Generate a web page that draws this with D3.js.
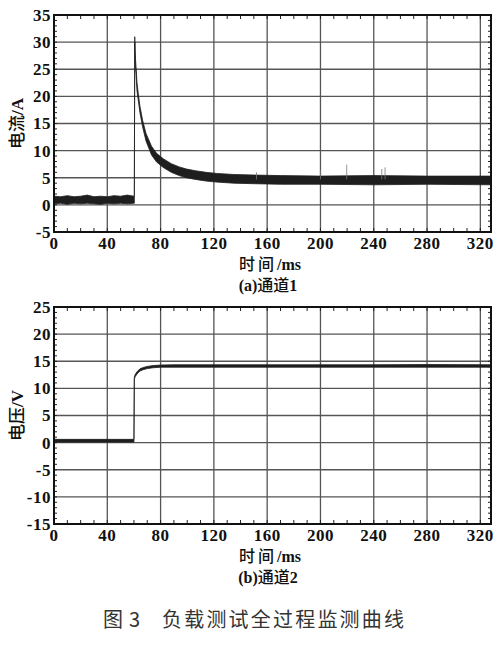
<!DOCTYPE html>
<html>
<head>
<meta charset="utf-8">
<script src="https://cdn.jsdelivr.net/npm/d3@7"></script>
<style>
  body { margin: 0; background: #fff; }
  .tick-label { font-family: "Liberation Serif", "DejaVu Serif", serif; font-weight: bold; font-size: 17px; letter-spacing: 0.5px; fill: #111; }
  .cjk { font-family: "Noto Sans CJK SC", sans-serif; font-weight: 500; }
  .latin { font-family: "Liberation Serif", serif; font-weight: bold; }
</style>
</head>
<body>
<div id="chart"></div>
<script>
// tick values
var timeTicks = [0, 40, 80, 120, 160, 200, 240, 280, 320];
var currentTicks = [-5, 0, 5, 10, 15, 20, 25, 30, 35];
var voltageTicks = [-15, -10, -5, 0, 5, 10, 15, 20, 25];

// channel 1 : current, noisy band (upper / lower edge)
var currentT  = [0, 5, 10, 15, 20, 25, 30, 35, 40, 45, 50, 55, 60, 60.3, 60.6, 60.9, 61.5, 62.3, 63.2, 64.5, 66.5, 69, 73.2, 77, 82, 88, 94, 99.5, 106, 114, 122, 135, 150, 170, 200, 240, 280, 328];
var currentHi = [1.6, 1.5, 1.7, 1.5, 1.6, 1.8, 1.5, 1.6, 1.5, 1.7, 1.6, 1.8, 1.6, 1.6, 31.0, 28.0, 25.6, 22.5, 20.6, 18.2, 15.6, 13.2, 10.8, 9.5, 8.5, 7.6, 7.0, 6.6, 6.3, 6.0, 5.8, 5.6, 5.5, 5.4, 5.3, 5.4, 5.3, 5.3];
var currentLo = [0.2, 0.3, 0.1, 0.3, 0.2, 0.3, 0.2, 0.1, 0.3, 0.2, 0.3, 0.2, 0.3, 0.3, 30.0, 26.5, 24.4, 21.0, 19.4, 17.0, 14.4, 11.8, 9.2, 7.9, 6.9, 6.0, 5.4, 5.0, 4.7, 4.4, 4.2, 4.0, 3.9, 3.8, 3.8, 3.7, 3.8, 3.7];
// isolated thin spikes
var spikeT = [152, 200, 219.7, 246, 248.5];
var spikeV = [6.0, 6.4, 7.4, 6.6, 6.9];
var spikeBase = 4.7;

// channel 2 : voltage
var voltageT  = [0, 20, 40, 59.8, 60, 60.3, 61, 62.5, 64.5, 67, 70, 74.5, 80, 90, 120, 160, 200, 240, 280, 328];
var voltageHi = [0.6, 0.6, 0.6, 0.6, 0.6, 12.1, 12.6, 13.1, 13.6, 13.85, 14.05, 14.2, 14.3, 14.35, 14.35, 14.35, 14.35, 14.35, 14.4, 14.35];
var voltageLo = [0.1, 0.1, 0.1, 0.1, 0.1, 11.7, 12.2, 12.7, 13.2, 13.45, 13.65, 13.8, 13.9, 13.9, 13.9, 13.9, 13.9, 13.9, 13.9, 13.9];

var svgWidth = 500;
var svgHeight = 645;

var svg = d3.select("#chart")
  .append("svg")
  .attr("width", svgWidth)
  .attr("height", svgHeight);

function drawPanel(opt) {
  var left = 54, right = 491;
  var top = opt.top, bottom = opt.top + 217;

  var x = d3.scaleLinear().domain([0, 328]).range([left, right]);
  var y = d3.scaleLinear().domain([opt.yTicks[0], opt.yTicks[opt.yTicks.length - 1]]).range([bottom, top]);

  var g = svg.append("g");

  // grid
  g.selectAll(".vgrid")
    .data(timeTicks.filter(d => d > 0))
    .enter().append("line")
    .attr("x1", d => x(d)).attr("x2", d => x(d))
    .attr("y1", top).attr("y2", bottom)
    .attr("stroke", "#555").attr("stroke-width", 1.3);

  g.selectAll(".hgrid")
    .data(opt.yTicks.slice(1, -1))
    .enter().append("line")
    .attr("x1", left).attr("x2", right)
    .attr("y1", d => y(d)).attr("y2", d => y(d))
    .attr("stroke", "#555").attr("stroke-width", 1.3);

  // minor ticks, inside the frame
  var xMinor = d3.range(10, 328, 10);
  xMinor.forEach(function(t) {
    g.append("line").attr("x1", x(t)).attr("x2", x(t)).attr("y1", top).attr("y2", top + 4)
      .attr("stroke", "#222").attr("stroke-width", 1);
    g.append("line").attr("x1", x(t)).attr("x2", x(t)).attr("y1", bottom).attr("y2", bottom - 4)
      .attr("stroke", "#222").attr("stroke-width", 1);
  });
  var yMinor = d3.range(opt.yTicks[0] + 1, opt.yTicks[opt.yTicks.length - 1], 1);
  yMinor.forEach(function(v) {
    g.append("line").attr("x1", left).attr("x2", left + 3).attr("y1", y(v)).attr("y2", y(v))
      .attr("stroke", "#222").attr("stroke-width", 1);
    g.append("line").attr("x1", right).attr("x2", right - 3).attr("y1", y(v)).attr("y2", y(v))
      .attr("stroke", "#222").attr("stroke-width", 1);
  });

  // data band
  var area = d3.area()
    .x(d => x(d.t))
    .y0(d => y(d.lo))
    .y1(d => y(d.hi));
  var rows = opt.t.map((t, i) => ({ t: t, hi: opt.hi[i], lo: opt.lo[i] }));
  g.append("path")
    .datum(rows)
    .attr("d", area)
    .attr("fill", "#1e1e1e")
    .attr("stroke", "#1e1e1e")
    .attr("stroke-width", 0.8);

  if (opt.spikes) {
    g.selectAll(".spike")
      .data(opt.spikes.t)
      .enter().append("line")
      .attr("x1", d => x(d)).attr("x2", d => x(d))
      .attr("y1", y(spikeBase))
      .attr("y2", (d, i) => y(opt.spikes.v[i]))
      .attr("stroke", "#777").attr("stroke-width", 0.8);
  }

  // frame
  g.append("rect")
    .attr("x", left).attr("y", top)
    .attr("width", right - left).attr("height", bottom - top)
    .attr("fill", "none").attr("stroke", "#111").attr("stroke-width", 2);

  // tick labels
  g.selectAll(".xl")
    .data(timeTicks)
    .enter().append("text")
    .attr("class", "tick-label")
    .attr("x", d => x(d)).attr("y", bottom + 17)
    .attr("text-anchor", "middle")
    .text(d => d);

  g.selectAll(".yl")
    .data(opt.yTicks)
    .enter().append("text")
    .attr("class", "tick-label")
    .attr("x", left - 3).attr("y", d => y(d))
    .attr("dy", "0.35em")
    .attr("text-anchor", "end")
    .text(d => d);

  // x axis title
  var xt = g.append("text")
    .attr("x", 270).attr("y", bottom + 38)
    .attr("text-anchor", "middle")
    .attr("font-size", 16).attr("fill", "#111");
  xt.append("tspan").attr("class", "cjk").attr("letter-spacing", 3).text("时间");
  xt.append("tspan").attr("class", "latin").text("/ms");

  var sub = g.append("text")
    .attr("x", 268).attr("y", bottom + 59)
    .attr("text-anchor", "middle")
    .attr("font-size", 16).attr("fill", "#111");
  sub.append("tspan").attr("class", "latin").text(opt.subA);
  sub.append("tspan").attr("class", "cjk").text("通道");
  sub.append("tspan").attr("class", "latin").text(opt.subB);

  // y axis title
  var yt = g.append("text")
    .attr("transform", `translate(23, ${(top + bottom) / 2}) rotate(-90)`)
    .attr("text-anchor", "middle")
    .attr("font-size", 17).attr("fill", "#111");
  yt.append("tspan").attr("class", "cjk").text(opt.yName);
  yt.append("tspan").attr("class", "latin").text(opt.yUnit);
}

drawPanel({
  top: 15,
  yTicks: currentTicks,
  t: currentT, hi: currentHi, lo: currentLo,
  spikes: { t: spikeT, v: spikeV },
  subA: "(a)", subB: "1",
  yName: "电流", yUnit: "/A"
});

drawPanel({
  top: 307,
  yTicks: voltageTicks,
  t: voltageT, hi: voltageHi, lo: voltageLo,
  subA: "(b)", subB: "2",
  yName: "电压", yUnit: "/V"
});

// figure caption
var cap = svg.append("text")
  .attr("x", 103).attr("y", 627)
  .attr("font-family", "Noto Sans CJK SC, sans-serif")
  .attr("font-size", 20)
  .attr("fill", "#333");
cap.append("tspan").text("图");
cap.append("tspan").attr("x", 129).text("3");
cap.append("tspan").attr("x", 162).attr("letter-spacing", 2.2).text("负载测试全过程监测曲线");
</script>
</body>
</html>
